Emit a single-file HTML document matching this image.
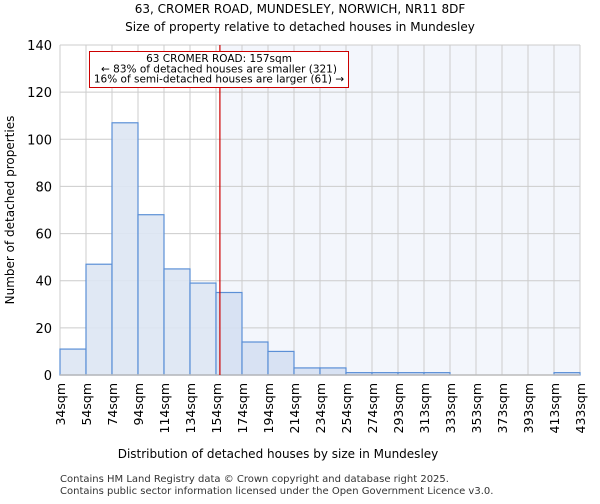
<!DOCTYPE html>
<html><head><meta charset="utf-8"><style>
body{margin:0;background:#fff;font-family:"DejaVu Sans","Liberation Sans",sans-serif}
</style></head><body>
<svg id="c" width="600" height="500" xmlns="http://www.w3.org/2000/svg" font-family="DejaVu Sans, Liberation Sans, sans-serif">
<text x="300" y="13" text-anchor="middle" font-size="12">63, CROMER ROAD, MUNDESLEY, NORWICH, NR11 8DF</text>
<text x="300" y="31" text-anchor="middle" font-size="12">Size of property relative to detached houses in Mundesley</text>
<g id="plot"></g>
<text x="278" y="458" text-anchor="middle" font-size="12">Distribution of detached houses by size in Mundesley</text>
<text transform="translate(14,210) rotate(-90)" text-anchor="middle" font-size="12">Number of detached properties</text>
<text x="60" y="482" font-size="10" fill="#333">Contains HM Land Registry data © Crown copyright and database right 2025.</text>
<text x="60" y="494" font-size="10" fill="#333">Contains public sector information licensed under the Open Government Licence v3.0.</text>
</svg>
<script>
const binLabels=["34sqm","54sqm","74sqm","94sqm","114sqm","134sqm","154sqm","174sqm","194sqm","214sqm","234sqm","254sqm","274sqm","293sqm","313sqm","333sqm","353sqm","373sqm","393sqm","413sqm","433sqm"];
const counts=[11,47,107,68,45,39,35,14,10,3,3,1,1,1,1,0,0,0,0,1];
const yTicks=[0,20,40,60,80,100,120,140];
const propertyBinPos=6.15;
const NS="http://www.w3.org/2000/svg";
const X0=60,X1=580,Y0=375,Y1=45,YMAX=140;
const nb=counts.length;
const xs=i=>X0+i*(X1-X0)/nb;
const ys=v=>Y0-v*(Y0-Y1)/YMAX;
const g=document.getElementById('plot');
function mk(t,a){const e=document.createElementNS(NS,t);for(const k in a)e.setAttribute(k,a[k]);g.appendChild(e);return e;}
const rx=xs(propertyBinPos);
const sh=mk('rect',{x:rx,y:Y1,width:X1-rx,height:Y0-Y1,fill:'#f3f6fc'});


for(let i=0;i<=nb;i++){const l=mk('line',{x1:xs(i),x2:xs(i),y1:Y1,y2:Y0,stroke:'#cccccc','stroke-width':1});

}
yTicks.forEach(v=>{const l=mk('line',{x1:X0,x2:X1,y1:ys(v),y2:ys(v),stroke:'#cccccc','stroke-width':1});


const t=mk('text',{x:X0-8,y:ys(v)+5,'text-anchor':'end','font-size':13});t.textContent=v;

});
counts.forEach((c,i)=>{if(c<=0)return;const r=mk('rect',{x:xs(i),y:ys(c),width:xs(i+1)-xs(i),height:Y0-ys(c),fill:i+1<=propertyBinPos?'#dde6f3':'#d5e0f2','fill-opacity':0.9,stroke:'#5b8fd6','stroke-width':1.2});

});
const ax=mk('line',{x1:X0,x2:X1,y1:Y0,y2:Y0,stroke:'#bbbbbb','stroke-width':1.5});


binLabels.forEach((s,i)=>{const t=mk('text',{transform:`translate(${xs(i)+5},${Y0+8}) rotate(-90)`,'text-anchor':'end','font-size':12.5});t.textContent=s;

});
const pl=mk('line',{x1:rx,x2:rx,y1:Y1,y2:Y0,stroke:'#cc0000','stroke-width':1.2});


const box=mk('rect',{x:89.5,y:51.5,width:259,height:36,fill:'#fff',stroke:'#cc0000','stroke-width':1});


["63 CROMER ROAD: 157sqm","← 83% of detached houses are smaller (321)","16% of semi-detached houses are larger (61) →"].forEach((s,i)=>{const t=mk('text',{x:219,y:62+i*10.3,'text-anchor':'middle','font-size':10.5});t.textContent=s;

});
</script>
</body></html>
